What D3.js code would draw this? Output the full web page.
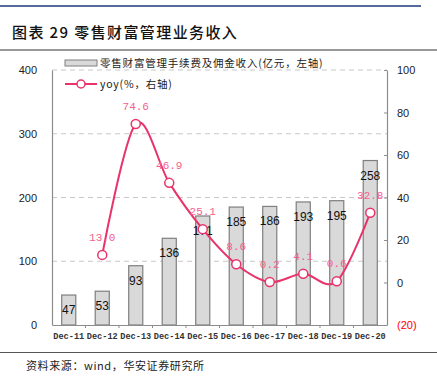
<!DOCTYPE html>
<meta charset="utf-8">
<style>
    body { margin: 0; background: #fff; overflow: hidden; }
    svg { display: block; }
</style>
<svg id="canvas" width="437" height="390"></svg>
<script src="https://d3js.org/d3.v7.min.js"></script>
<script>

    var categories = ["Dec-11", "Dec-12", "Dec-13", "Dec-14", "Dec-15", "Dec-16", "Dec-17", "Dec-18", "Dec-19", "Dec-20"];
    var revenue = [47, 53, 93, 136, 171, 185, 186, 193, 195, 258];
    var yoy = [null, 13.0, 74.6, 46.9, 25.1, 8.6, 0.2, 4.1, 0.6, 32.8];
    var leftTicks = [0, 100, 200, 300, 400];
    var rightTicks = [-20, 0, 20, 40, 60, 80, 100];

    var svg = d3.select("svg");
    var cjk = "'Noto Sans CJK SC', sans-serif";
    var mono = "'Liberation Mono', 'DejaVu Sans Mono', monospace";
    var pink = "#e8336b";

    // header / title / footer
    svg.append("line").attr("x1", 0).attr("x2", 421).attr("y1", 6).attr("y2", 6)
       .attr("stroke", "#1f3a7a").attr("stroke-width", 1.5);
    svg.append("text").attr("x", 12).attr("y", 38)
       .attr("font-family", cjk).attr("font-size", 15).attr("font-weight", 500)
       .attr("letter-spacing", 1.4)
       .attr("fill", "#111").text("图表 29 零售财富管理业务收入");
    svg.append("line").attr("x1", 0).attr("x2", 437).attr("y1", 50).attr("y2", 50)
       .attr("stroke", "#333").attr("stroke-width", 1);
    svg.append("line").attr("x1", 0).attr("x2", 437).attr("y1", 352.5).attr("y2", 352.5)
       .attr("stroke", "#555").attr("stroke-width", 1.2);
    svg.append("text").attr("x", 26).attr("y", 370)
       .attr("font-family", cjk).attr("font-size", 11).attr("letter-spacing", 0.6).attr("fill", "#222")
       .text("资料来源：wind，华安证券研究所");

    var plotLeft = 52, plotRight = 387, plotTop = 70, plotBottom = 325;

    var x = d3.scaleBand().domain(categories).range([plotLeft, plotRight]);
    var yL = d3.scaleLinear().domain([0, 400]).range([plotBottom, plotTop]);
    var yR = d3.scaleLinear().domain([-20, 100]).range([plotBottom, plotTop]);

    // gridlines
    svg.append("g").selectAll("line").data(leftTicks.slice(1)).enter().append("line")
       .attr("x1", plotLeft).attr("x2", plotRight)
       .attr("y1", function(d) { return yL(d); }).attr("y2", function(d) { return yL(d); })
       .attr("stroke", "#c8c8c8").attr("stroke-dasharray", "5,4").attr("stroke-width", 1);

    // bars
    var bw = x.bandwidth() * 0.42;
    svg.append("g").selectAll("rect").data(revenue).enter().append("rect")
       .attr("x", function(d, i) { return x(categories[i]) + x.bandwidth() / 2 - bw / 2; })
       .attr("y", function(d) { return yL(d); })
       .attr("width", bw)
       .attr("height", function(d) { return plotBottom - yL(d); })
       .attr("fill", "#d9d9d9").attr("stroke", "#7f7f7f").attr("stroke-width", 1.2);

    svg.append("g").selectAll("text").data(revenue).enter().append("text")
       .attr("x", function(d, i) { return x(categories[i]) + x.bandwidth() / 2; })
       .attr("y", function(d) { return yL(d) + 19; })
       .attr("text-anchor", "middle")
       .attr("font-family", "'Liberation Sans', Arial, sans-serif").attr("font-size", 12)
       .attr("fill", "#111").text(function(d) { return d; });

    // axes
    var axisColor = "#8c8c8c";
    var gx = svg.append("g").attr("transform", "translate(0," + plotBottom + ")")
       .call(d3.axisBottom(x).tickSize(0).tickPadding(8));
    gx.select(".domain").attr("stroke", axisColor).attr("stroke-width", 1.2);
    gx.selectAll("text").attr("font-family", mono).attr("font-size", 8.6)
       .attr("font-weight", "bold").attr("fill", "#333");
    svg.append("g").selectAll("line").data(categories.slice(1)).enter().append("line")
       .attr("x1", function(d) { return x(d); }).attr("x2", function(d) { return x(d); })
       .attr("y1", plotBottom).attr("y2", plotBottom + 3).attr("stroke", axisColor);

    var gl = svg.append("g").attr("transform", "translate(" + plotLeft + ",0)")
       .call(d3.axisLeft(yL).tickValues(leftTicks).tickSize(0).tickPadding(15));
    gl.select(".domain").attr("stroke", axisColor).attr("stroke-width", 1.2);
    gl.selectAll("text").attr("font-family", "'Liberation Sans', Arial, sans-serif")
       .attr("font-size", 11).attr("fill", "#222");

    var gr = svg.append("g").attr("transform", "translate(" + plotRight + ",0)")
       .call(d3.axisRight(yR).tickValues(rightTicks).tickSizeInner(-3).tickSizeOuter(0).tickPadding(10)
               .tickFormat(function(d) { return d < 0 ? "(" + (-d) + ")" : d; }));
    gr.select(".domain").attr("stroke", axisColor).attr("stroke-width", 1.2);
    gr.selectAll(".tick line").attr("stroke", axisColor);
    gr.selectAll("text").attr("font-family", "'Liberation Sans', Arial, sans-serif")
       .attr("font-size", 11).attr("fill", function(d) { return d < 0 ? "#ff0000" : "#222"; });

    // yoy line
    var pts = [];
    yoy.forEach(function(v, i) { if (v !== null) pts.push({ c: categories[i], v: v }); });
    var line = d3.line()
       .x(function(d) { return x(d.c) + x.bandwidth() / 2; })
       .y(function(d) { return yR(d.v); })
       .curve(d3.curveCardinal.tension(0));
    svg.append("path").datum(pts).attr("d", line)
       .attr("fill", "none").attr("stroke", pink).attr("stroke-width", 2);
    svg.append("g").selectAll("circle").data(pts).enter().append("circle")
       .attr("cx", function(d) { return x(d.c) + x.bandwidth() / 2; })
       .attr("cy", function(d) { return yR(d.v); })
       .attr("r", 4.5).attr("fill", "#fff").attr("stroke", pink).attr("stroke-width", 1.5);
    svg.append("g").selectAll("text").data(pts).enter().append("text")
       .attr("x", function(d) { return x(d.c) + x.bandwidth() / 2; })
       .attr("y", function(d) { return yR(d.v) - 14; })
       .attr("text-anchor", "middle")
       .attr("font-family", mono).attr("font-size", 11).attr("fill", "#f4608c")
       .text(function(d) { return d.v.toFixed(1); });

    // legend
    var lg = svg.append("g");
    lg.append("rect").attr("x", 65).attr("y", 60).attr("width", 32).attr("height", 6)
      .attr("fill", "#d9d9d9").attr("stroke", "#7f7f7f").attr("stroke-width", 1);
    lg.append("text").attr("x", 100).attr("y", 67)
      .attr("font-family", cjk).attr("font-size", 10.5).attr("letter-spacing", 0.8).attr("fill", "#222")
      .text("零售财富管理手续费及佣金收入(亿元，左轴)");
    lg.append("line").attr("x1", 65).attr("x2", 97).attr("y1", 84).attr("y2", 84)
      .attr("stroke", pink).attr("stroke-width", 2);
    lg.append("circle").attr("cx", 81).attr("cy", 84).attr("r", 4)
      .attr("fill", "#fff").attr("stroke", pink).attr("stroke-width", 1.5);
    lg.append("text").attr("x", 100).attr("y", 88)
      .attr("font-family", cjk).attr("font-size", 10.5).attr("letter-spacing", 0.8).attr("fill", "#222")
      .text("yoy(%，右轴)");

</script>
